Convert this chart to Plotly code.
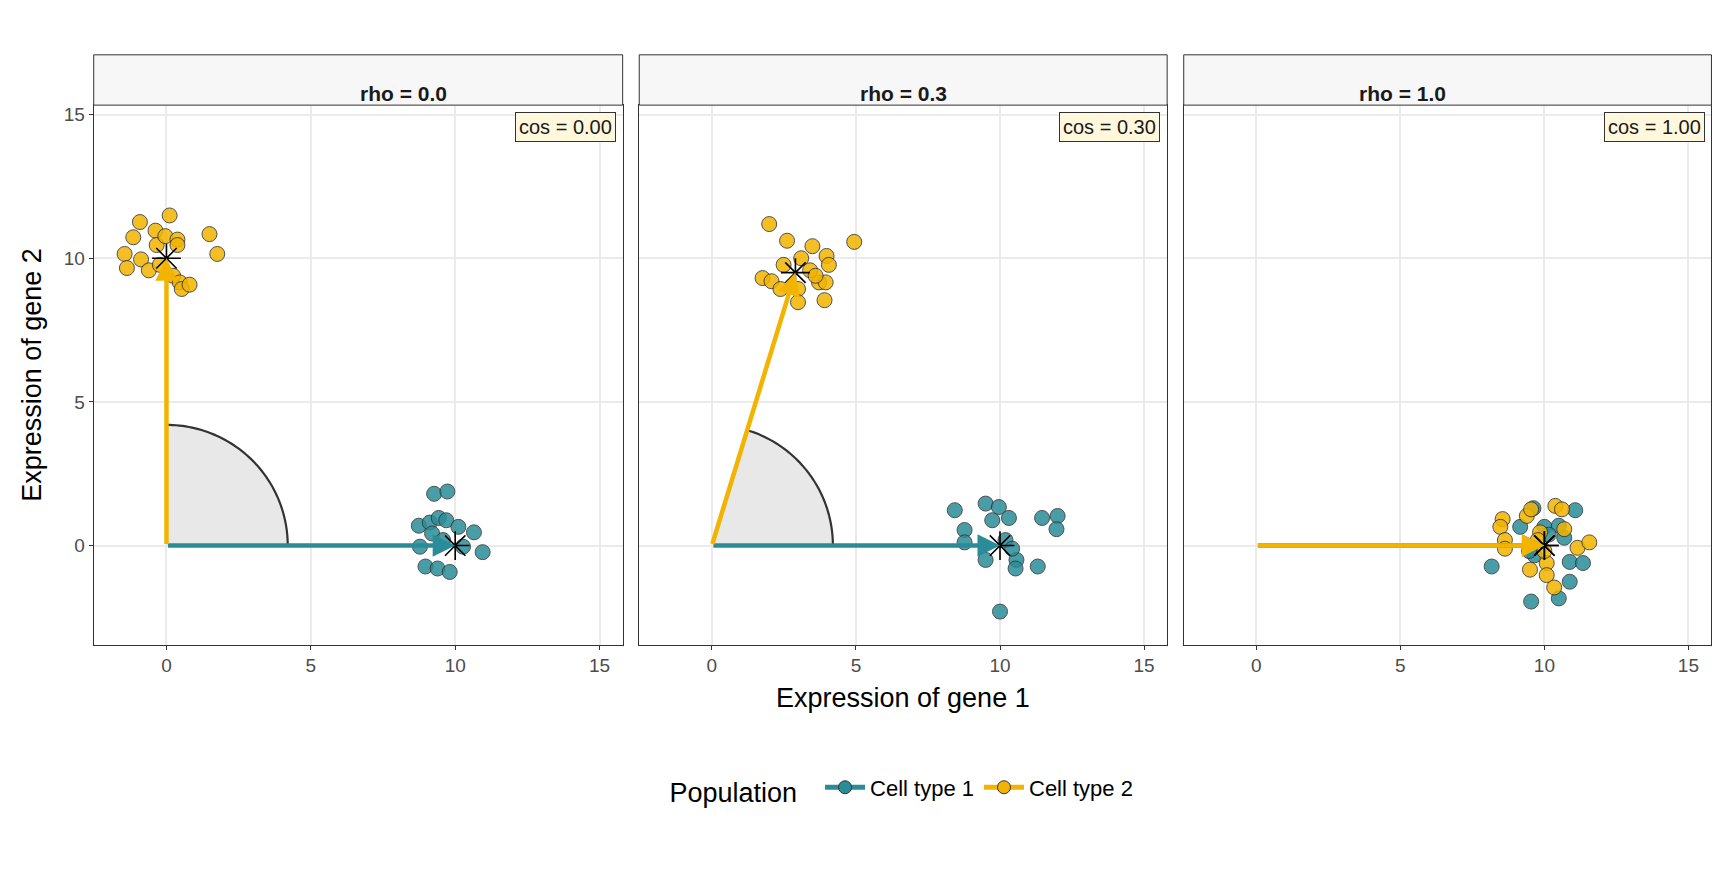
import numpy as np
import plotly.graph_objects as go

panels = ["rho = 0.0", "rho = 0.3", "rho = 1.0"]
cos_labels = ["cos = 0.00", "cos = 0.30", "cos = 1.00"]

t1_x = [[9.27,9.73,8.74,9.12,9.43,9.69,10.11,8.78,9.20,8.97,9.39,9.81,10.65,10.95,10.27,9.58],
        [8.43,9.5,9.96,10.31,9.73,8.77,8.77,11.46,12.0,11.96,9.5,10.57,10.54,11.31,10.0,10.19,10.42],
        [8.17,9.16,9.62,10.0,10.50,11.07,10.69,10.88,11.34,10.88,10.50,9.54,9.66,9.47,10.15]]
t1_y = [[1.80,1.88,0.69,0.80,0.96,0.88,0.65,-0.04,0.42,-0.73,-0.80,-0.92,0.46,-0.23,-0.04,0.19],
        [1.23,1.46,1.34,0.96,0.88,0.54,0.11,0.96,1.03,0.57,-0.50,-0.50,-0.80,-0.73,-2.30,0.19,-0.11],
        [-0.73,0.65,1.30,0.65,0.69,1.23,0.27,-0.57,-0.61,-1.26,-1.84,-1.95,-0.34,-0.19,0.38]]
t2_x = [[-1.45,-0.92,-0.38,0.11,-1.15,-0.88,-1.37,-0.34,-0.04,0.38,0.38,-0.61,0.23,0.46,0.53,0.80,1.49,1.76,-0.23],
        [1.99,2.61,3.49,4.94,3.98,2.49,3.10,1.76,2.07,2.38,2.99,2.99,3.91,3.72,4.06,3.95,3.41,3.60],
        [8.55,8.47,8.63,8.63,9.39,9.54,9.85,9.50,10.08,10.08,10.34,10.38,10.61,11.15,11.56,10.0,9.77,10.69]]
t2_y = [[10.15,11.26,10.96,11.49,10.73,9.96,9.66,10.46,10.77,10.65,10.46,9.58,9.39,9.16,8.93,9.08,10.84,10.15,9.77],
        [11.19,10.61,10.42,10.57,10.08,9.77,10.0,9.31,9.20,8.93,8.93,8.47,8.54,9.16,9.77,9.16,9.58,9.39],
        [0.92,0.65,0.19,-0.11,1.03,1.26,0.46,-0.84,-0.61,-1.03,-1.46,1.38,1.26,-0.08,0.11,-0.19,0.19,0.57]]
# vector endpoints (centroids) per panel
v1 = [(10, 0), (10, 0), (10, 0)]
v2 = [(0, 10), (2.9, 9.5), (10, 0)]

TEAL = "#2A8C98"
GOLD = "#F2B400"
FONT = "Liberation Sans"

dx, dy = -0.0046, 0.009
dom_x = [(0.0542 + dx, 0.3603 + dx), (0.3699 + dx, 0.6754 + dx), (0.6850 + dx, 0.9904 + dx)]
ytop, ybot = 0.881 + dy, 0.270 + dy
stop = 0.938 + dy

fig = go.Figure()
shapes, annos = [], []
for i in range(3):
    s = "" if i == 0 else str(i + 1)
    xa, ya = "x" + s, "y" + s
    a2 = np.arctan2(v2[i][1], v2[i][0])
    if a2 > 1e-6:
        r = 4.2
        th = np.linspace(0, a2, 60)
        path = "M 0 0 " + " ".join(f"L {r*np.cos(t):.4f} {r*np.sin(t):.4f}" for t in th) + " Z"
        shapes.append(dict(type="path", path=path, xref=xa, yref=ya, fillcolor="#E8E8E8",
                           line=dict(width=0), layer="below"))
        path2 = "M " + " L ".join(f"{r*np.cos(t):.4f} {r*np.sin(t):.4f}" for t in th)
        shapes.append(dict(type="path", path=path2, xref=xa, yref=ya, line=dict(color="#333333", width=2.2)))
    for (vx, vy), col in [(v1[i], TEAL), (v2[i], GOLD)]:
        annos.append(dict(x=vx, y=vy, ax=0, ay=0, xref=xa, yref=ya, axref=xa, ayref=ya,
                          showarrow=True, arrowhead=2, arrowsize=1, arrowwidth=4.5,
                          arrowcolor=col, text=""))
    for xs, ys, col in [(t1_x[i], t1_y[i], TEAL), (t2_x[i], t2_y[i], GOLD)]:
        fig.add_trace(go.Scatter(x=xs, y=ys, mode="markers", xaxis=xa, yaxis=ya, showlegend=False,
                                 marker=dict(size=15, color=col, opacity=0.85,
                                             line=dict(color="#333333", width=1))))
    fig.add_trace(go.Scatter(x=[v1[i][0], v2[i][0]], y=[v1[i][1], v2[i][1]], mode="markers",
                             xaxis=xa, yaxis=ya, showlegend=False,
                             marker=dict(symbol="asterisk-open", size=24, color="black",
                                         line=dict(color="black", width=1.6))))
    fig.layout["xaxis" + s] = dict(domain=dom_x[i], range=[-2.52, 15.8], tickvals=[0, 5, 10, 15],
                                   anchor=ya, showgrid=True, gridcolor="#EBEBEB", gridwidth=1.5,
                                   zeroline=False, showline=True, linecolor="#333333", mirror=True,
                                   ticks="outside", ticklen=4, tickcolor="#333333",
                                   tickfont=dict(size=19, color="#4D4D4D", family=FONT))
    fig.layout["yaxis" + s] = dict(domain=[ybot, ytop], range=[-3.45, 15.33], tickvals=[0, 5, 10, 15],
                                   anchor=xa, showgrid=True, gridcolor="#EBEBEB", gridwidth=1.5,
                                   zeroline=False, showline=True, linecolor="#333333", mirror=True,
                                   ticks="outside" if i == 0 else "", ticklen=4, tickcolor="#333333",
                                   showticklabels=(i == 0),
                                   tickfont=dict(size=19, color="#4D4D4D", family=FONT))
    shapes.append(dict(type="rect", xref="paper", yref="paper", x0=dom_x[i][0], x1=dom_x[i][1],
                       y0=ytop, y1=stop, fillcolor="#F7F7F7", line=dict(color="#333333", width=1)))
    annos.append(dict(x=(dom_x[i][0] + dom_x[i][1]) / 2, y=(ytop + stop) / 2, xref="paper", yref="paper",
                      text=f"<b>{panels[i]}</b>", showarrow=False,
                      font=dict(size=21, color="#1A1A1A", family=FONT)))
    annos.append(dict(x=dom_x[i][1] - 0.004, y=ytop - 0.008, xref="paper", yref="paper",
                      xanchor="right", yanchor="top", text=cos_labels[i], showarrow=False,
                      bgcolor="#FFF8DC", bordercolor="#333333", borderwidth=1, borderpad=3,
                      font=dict(size=20, color="#1A1A1A", family=FONT)))

annos.append(dict(x=0.5225 + dx, y=0.19 + dy, xref="paper", yref="paper", text="Expression of gene 1",
                  showarrow=False, font=dict(size=27, color="black", family=FONT)))
annos.append(dict(x=0.004, y=(ytop + ybot) / 2, xref="paper", yref="paper", text="Expression of gene 2",
                  textangle=-90, showarrow=False, font=dict(size=27, color="black", family=FONT)))

for name, col in [("Cell type 1", TEAL), ("Cell type 2", GOLD)]:
    fig.add_trace(go.Scatter(x=[None], y=[None], mode="lines+markers", name=name,
                             line=dict(color=col, width=5),
                             marker=dict(symbol="circle", size=13, color=col, line=dict(color="#333", width=1))))

fig.update_layout(width=1728, height=883, margin=dict(l=0, r=0, t=0, b=0),
                  plot_bgcolor="white", paper_bgcolor="white", shapes=shapes, annotations=annos,
                  legend=dict(orientation="h", x=0.5225 + dx, xanchor="center", y=0.106 + dy, yanchor="middle",
                              title=dict(text="Population  ", font=dict(size=27, color="black")),
                              itemwidth=40,
                              font=dict(size=22, color="black", family=FONT)),
                  font=dict(family=FONT))
fig.write_html("out.html")
